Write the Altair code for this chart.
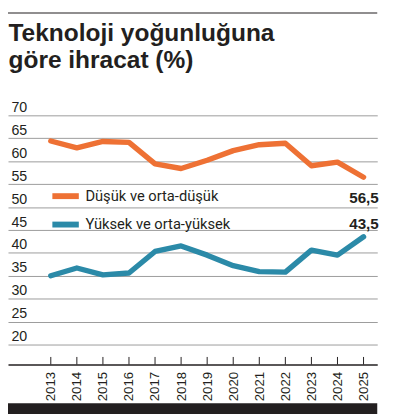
import altair as alt
import pandas as pd

# ---- data ----
years = list(range(2013, 2026))
low_mid_low = [64.4, 62.9, 64.3, 64.1, 59.4, 58.4, 60.2, 62.3, 63.6, 63.9, 59.0, 59.8, 56.5]
high_mid_high = [35.0, 36.7, 35.2, 35.6, 40.3, 41.5, 39.5, 37.2, 35.9, 35.8, 40.6, 39.5, 43.5]
series_names = ["Düşük ve orta-düşük", "Yüksek ve orta-yüksek"]
series_colors = ["#EE7134", "#2B8AA8"]
y_ticks = [20, 25, 30, 35, 40, 45, 50, 55, 60, 65, 70]
title_lines = ["Teknoloji yoğunluğuna", "göre ihracat (%)"]

rows = []
for name, vals in zip(series_names, [low_mid_low, high_mid_high]):
    for yr, v in zip(years, vals):
        rows.append({"year": yr, "value": v, "series": name,
                     "label": f"{v:.1f}".replace(".", ",")})
df = pd.DataFrame(rows)
tick_df = pd.DataFrame({"year": years})
one = pd.DataFrame({"k": [0]})

INK = "#231f20"
LAB = "Liberation Sans, Roboto, sans-serif"
LEG = "Roboto, Liberation Sans, sans-serif"
W, H = 377, 254.4
Y_MIN, Y_MAX = 15.64, 70

x_scale = alt.Scale(domain=[2011.358, 2025.526], nice=False, zero=False)
y_scale = alt.Scale(domain=[Y_MIN, Y_MAX], nice=False, zero=False)

x_axis = alt.Axis(values=years, format="d", labelAngle=270, labelAlign="right",
                  labelBaseline="middle", labelPadding=7, ticks=False, grid=False,
                  labelOverlap=False, labelFlush=False,
                  domainColor=INK, domainWidth=1.3, labelFont=LAB,
                  labelFontSize=13.5, labelColor=INK, title=None)
y_axis = alt.Axis(values=y_ticks, grid=True, gridColor="#9b9b9b", gridWidth=1,
                  domain=False, ticks=False, labelAlign="left", labelPadding=-3,
                  labelOverlap=False, labelFlush=False,
                  labelOffset=-4, labelBaseline="alphabetic", labelFont=LAB,
                  labelFontSize=14.5, labelColor=INK, title=None)

X = alt.X("year:Q", scale=x_scale, axis=x_axis)
Y = alt.Y("value:Q", scale=y_scale, axis=y_axis)

base = alt.Chart(df)

lines = base.mark_line(strokeWidth=5.5, strokeCap="round", strokeJoin="round").encode(
    x=X,
    y=Y,
    color=alt.Color("series:N",
                    scale=alt.Scale(domain=series_names, range=series_colors),
                    legend=alt.Legend(title=None, orient="none", legendX=42.3, legendY=66,
                                      direction="vertical", symbolType="stroke",
                                      symbolStrokeWidth=6, symbolSize=729,
                                      labelFont=LEG, labelFontSize=15, labelLimit=400,
                                      labelColor=INK, labelOffset=3.7, rowPadding=-10,
                                      padding=0, labelBaseline="middle")),
)

ticks = alt.Chart(tick_df).mark_rule(color=INK, strokeWidth=1).encode(
    x=X,
    y=alt.Y(datum=Y_MIN, scale=y_scale, axis=y_axis),
    y2=alt.datum(Y_MIN + 1.65),
)

lab_low = base.transform_filter(
    (alt.datum.year == years[-1]) & (alt.datum.series == series_names[0])
).mark_text(align="right", baseline="alphabetic", dx=15.5, dy=26.5, font=LAB,
            fontWeight="bold", fontSize=15.5, color=INK).encode(
    x=X, y=Y, text="label:N")

lab_high = base.transform_filter(
    (alt.datum.year == years[-1]) & (alt.datum.series == series_names[1])
).mark_text(align="right", baseline="alphabetic", dx=15.5, dy=-8.3, font=LAB,
            fontWeight="bold", fontSize=15.5, color=INK).encode(
    x=X, y=Y, text="label:N")

title = alt.Chart(one).mark_text(
    text=title_lines, align="left", baseline="alphabetic", lineHeight=27.6,
    font="Liberation Sans", fontWeight="bold", fontSize=25, color=INK,
).encode(x=alt.value(0.5), y=alt.value(-75.6))

top_line = alt.Chart(one).mark_rule(color=INK, strokeWidth=1.2).encode(
    x=alt.value(-1), x2=alt.value(377), y=alt.value(-104.5))
bottom_bar = alt.Chart(one).mark_rect(color=INK).encode(
    x=alt.value(-1), x2=alt.value(377), y=alt.value(294), y2=alt.value(305))

chart = alt.layer(lines, ticks, lab_low, lab_high, title, top_line, bottom_bar).properties(
    width=W, height=H,
    autosize=alt.AutoSizeParams(type="none"),
    padding={"left": 0, "top": 105.3, "right": 12, "bottom": 50.3},
    background="white",
).configure_view(stroke=None).configure_axis(labelOverlap=False)

chart.save("out.html", embed_options={"renderer": "svg", "actions": False})
